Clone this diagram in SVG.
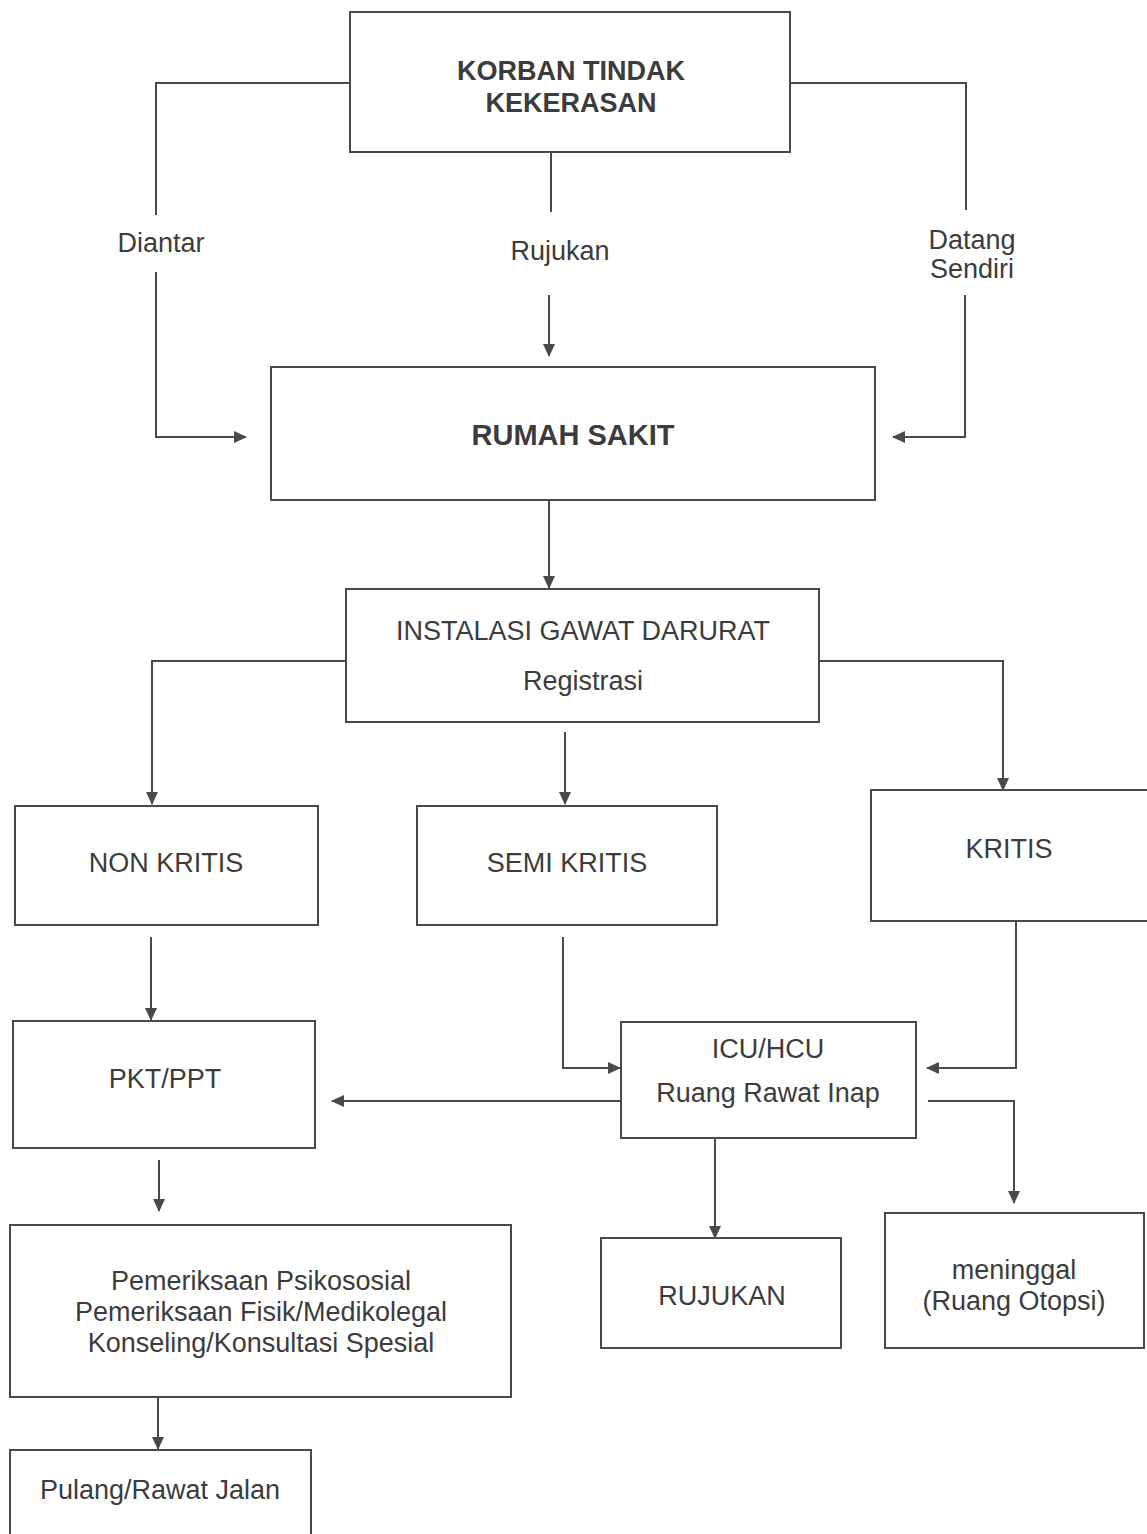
<svg xmlns="http://www.w3.org/2000/svg" width="1147" height="1534" viewBox="0 0 1147 1534">
<style>
.box{fill:#fff;stroke:#4a4a4a;stroke-width:2}
.ln{fill:none;stroke:#4a4a4a;stroke-width:2}
text{font-family:"Liberation Sans",Arial,sans-serif;font-size:27px;fill:#3c3c3c;text-anchor:middle}
.b{font-weight:bold}
</style>
<defs>
<marker id="ah" markerUnits="userSpaceOnUse" markerWidth="14" markerHeight="12" refX="12" refY="6" orient="auto">
<path d="M0,0 L13,6 L0,12 Z" fill="#4a4a4a"/>
</marker>
</defs>
<rect width="1147" height="1534" fill="#fff"/>
<g id="connectors">
<path class="ln" d="M350,83 H156 V215"/>
<path class="ln" d="M156,272 V437 H246" marker-end="url(#ah)"/>
<path class="ln" d="M551,152 V212"/>
<path class="ln" d="M549,295 V356" marker-end="url(#ah)"/>
<path class="ln" d="M790,83 H966 V210"/>
<path class="ln" d="M965,295 V437 H893" marker-end="url(#ah)"/>
<path class="ln" d="M549,500 V588" marker-end="url(#ah)"/>
<path class="ln" d="M346,661 H152 V804" marker-end="url(#ah)"/>
<path class="ln" d="M565,732 V804" marker-end="url(#ah)"/>
<path class="ln" d="M819,661 H1003 V790" marker-end="url(#ah)"/>
<path class="ln" d="M151,937 V1020" marker-end="url(#ah)"/>
<path class="ln" d="M563,937 V1068 H620" marker-end="url(#ah)"/>
<path class="ln" d="M1016,921 V1068 H927" marker-end="url(#ah)"/>
<path class="ln" d="M621,1101 H332" marker-end="url(#ah)"/>
<path class="ln" d="M715,1138 V1238" marker-end="url(#ah)"/>
<path class="ln" d="M928,1101 H1014 V1203" marker-end="url(#ah)"/>
<path class="ln" d="M159,1160 V1211" marker-end="url(#ah)"/>
<path class="ln" d="M158,1397 V1449" marker-end="url(#ah)"/>
<text x="161" y="252">Diantar</text>
<text x="560" y="260">Rujukan</text>
<text x="972" y="249">Datang</text>
<text x="972" y="278">Sendiri</text>
</g>
<g id="korban">
<rect class="box" x="350" y="12" width="440" height="140"/>
<text class="b" x="571" y="80">KORBAN TINDAK</text>
<text class="b" x="571" y="112">KEKERASAN</text>
</g>
<g id="rumah-sakit">
<rect class="box" x="271" y="367" width="604" height="133"/>
<text class="b" x="573" y="445" style="font-size:29px">RUMAH SAKIT</text>
</g>
<g id="igd">
<rect class="box" x="346" y="589" width="473" height="133"/>
<text x="583" y="640">INSTALASI GAWAT DARURAT</text>
<text x="583" y="690">Registrasi</text>
</g>
<g id="non-kritis">
<rect class="box" x="15" y="806" width="303" height="119"/>
<text x="166" y="872">NON KRITIS</text>
</g>
<g id="semi-kritis">
<rect class="box" x="417" y="806" width="300" height="119"/>
<text x="567" y="872">SEMI KRITIS</text>
</g>
<g id="kritis">
<rect class="box" x="871" y="790" width="280" height="131"/>
<text x="1009" y="858">KRITIS</text>
</g>
<g id="pkt-ppt">
<rect class="box" x="13" y="1021" width="302" height="127"/>
<text x="165" y="1088">PKT/PPT</text>
</g>
<g id="icu-hcu">
<rect class="box" x="621" y="1022" width="295" height="116"/>
<text x="768" y="1058">ICU/HCU</text>
<text x="768" y="1102">Ruang Rawat Inap</text>
</g>
<g id="pemeriksaan">
<rect class="box" x="10" y="1225" width="501" height="172"/>
<text x="261" y="1290">Pemeriksaan Psikososial</text>
<text x="261" y="1321">Pemeriksaan Fisik/Medikolegal</text>
<text x="261" y="1352">Konseling/Konsultasi Spesial</text>
</g>
<g id="rujukan">
<rect class="box" x="601" y="1238" width="240" height="110"/>
<text x="722" y="1305">RUJUKAN</text>
</g>
<g id="meninggal">
<rect class="box" x="885" y="1213" width="259" height="135"/>
<text x="1014" y="1279">meninggal</text>
<text x="1014" y="1310">(Ruang Otopsi)</text>
</g>
<g id="pulang">
<rect class="box" x="10" y="1450" width="301" height="95"/>
<text x="160" y="1499">Pulang/Rawat Jalan</text>
</g>
</svg>
